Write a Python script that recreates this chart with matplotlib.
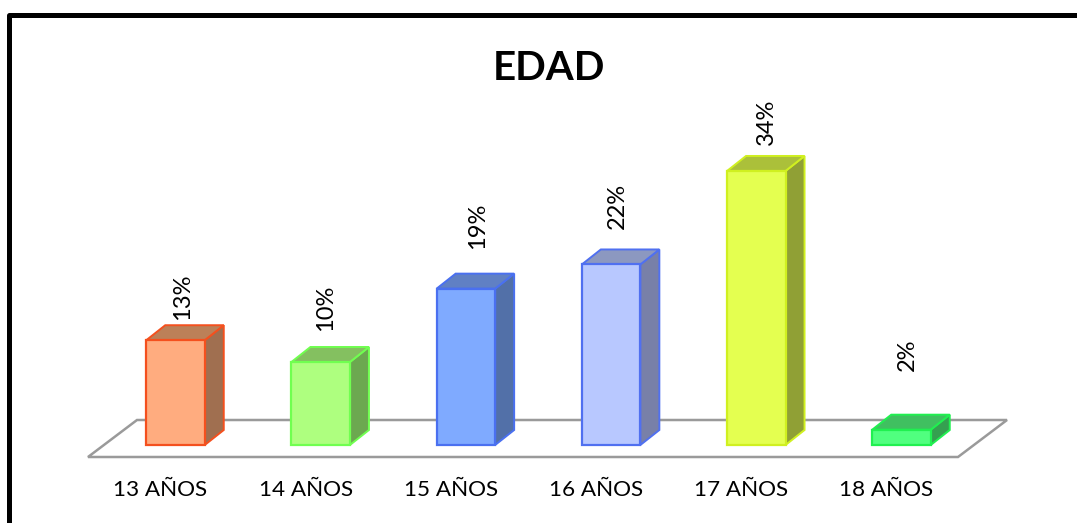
import matplotlib
matplotlib.use("Agg")
import matplotlib.pyplot as plt
from matplotlib.patches import Polygon, Rectangle

plt.rcParams['font.family'] = ['Lato', 'DejaVu Sans']

categories = ["13 AÑOS", "14 AÑOS", "15 AÑOS", "16 AÑOS", "17 AÑOS", "18 AÑOS"]
values = [13.0, 10.3, 19.4, 22.4, 34.0, 1.9]
value_labels = ["13%", "10%", "19%", "22%", "34%", "2%"]

front_colors = ["#FFAC7F", "#AEFF7F", "#7FAAFF", "#B8C8FF", "#E4FF50", "#50FF7F"]
edge_colors = ["#F4501E", "#70FF50", "#4A70F0", "#5070F0", "#D0F020", "#20F050"]
side_colors = ["#A06F50", "#6CA850", "#5270A8", "#7880A8", "#90A035", "#35A050"]
top_colors = ["#BC8058", "#84C060", "#6080C4", "#8C98C0", "#ABC03A", "#40C060"]

# where each rotated label sits relative to its bar, in pixels
label_gaps = [43, 54, 63, 59, 49, 75]
label_shifts = [7.5, 5.3, 12, 6, 9.7, 5.5]

W, H = 1077, 523
PX_X = 145.2   # pixels per category
PX_Y = 8.06    # pixels per percent
X0 = 175.5     # pixel centre of first bar
Y0 = 445       # pixel baseline

fig = plt.figure(figsize=(W / 100, H / 100), dpi=100)
ax = fig.add_axes([0, 0, 1, 1])
ax.set_xlim(-X0 / PX_X, (W - X0) / PX_X)
ax.set_ylim(-(H - Y0) / PX_Y, Y0 / PX_Y)
ax.axis("off")

bar_w = 58.5 / PX_X
dx = 19 / PX_X
dy = 15 / PX_Y


def px(x, y):
    return (x - X0) / PX_X, (Y0 - y) / PX_Y


# marco negro, solo arriba e izquierda quedan dentro de la imagen
ax.add_patch(Rectangle(px(9.5, 540), (1100 - 9.5) / PX_X, (540 - 14.5) / PX_Y,
                       fill=False, ec="black", lw=3.6, joinstyle="round", zorder=1))

# piso
floor = [px(88, 457), px(958, 457), px(1007, 420), px(137, 420)]
ax.add_patch(Polygon(floor, closed=True, fill=False, ec="#9A9A9A", lw=1.8, zorder=2))

for i, v in enumerate(values):
    left = i - bar_w / 2
    right = i + bar_w / 2
    side = [(right, 0), (right + dx, dy), (right + dx, v + dy), (right, v)]
    top = [(left, v), (right, v), (right + dx, v + dy), (left + dx, v + dy)]
    ax.add_patch(Polygon(side, closed=True, fc=side_colors[i], ec=edge_colors[i], lw=1.4, zorder=3))
    ax.add_patch(Polygon(top, closed=True, fc=top_colors[i], ec=edge_colors[i], lw=1.4, zorder=3))
    ax.bar(i, v, width=bar_w, color=front_colors[i], edgecolor=edge_colors[i], linewidth=1.6, zorder=4)
    ax.annotate(value_labels[i], (i, v), xytext=(label_shifts[i] * 0.72, label_gaps[i] * 0.72),
                textcoords="offset points", rotation=90, ha="center", va="center",
                fontsize=17, color="black")
    ax.text(i - 15 / PX_X, px(0, 490)[1], categories[i], ha="center", va="center",
            fontsize=16.2, color="black")

ax.text(*px(549, 69), "EDAD", ha="center", va="center", fontsize=29, fontweight="bold", color="black")

fig.savefig("out.png", dpi=100)
